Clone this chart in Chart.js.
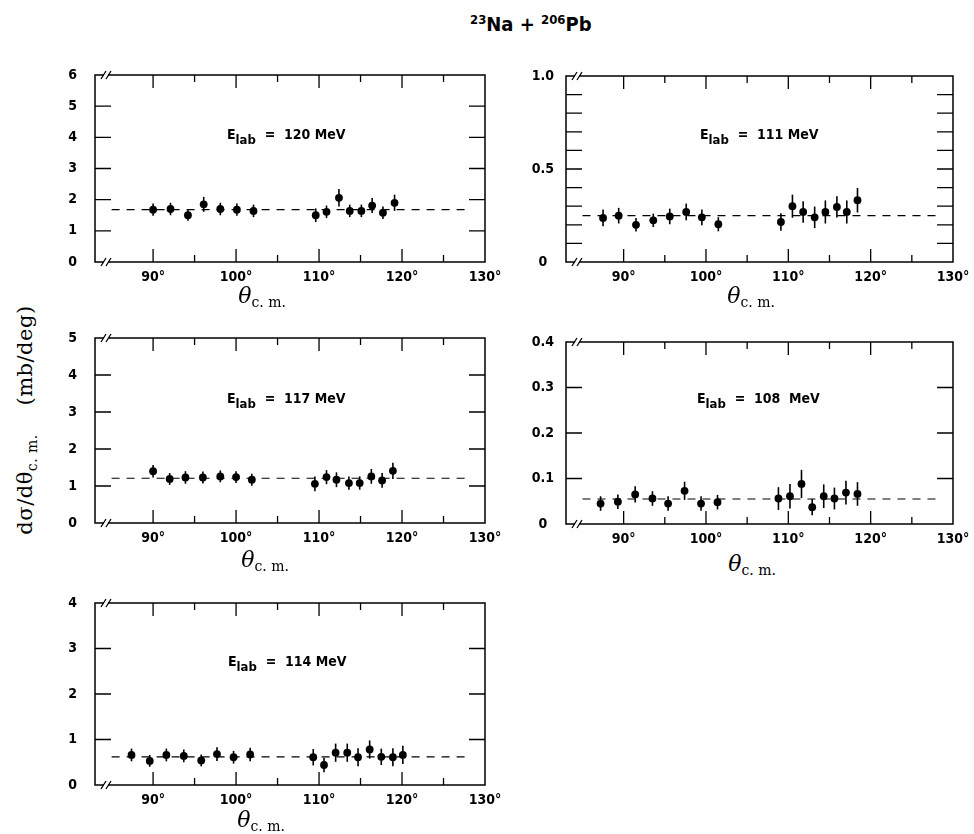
<!DOCTYPE html>
<html>
<head>
<meta charset="utf-8">
<script src="https://cdn.jsdelivr.net/npm/chart.js@4.4.1/dist/chart.umd.min.js"></script>
<style>
  body { margin: 0; background: #fff; width: 974px; height: 834px; position: relative; overflow: hidden; }
  canvas { position: absolute; }
  .txt { position: absolute; white-space: nowrap; color: #000; line-height: 1; }
  .title { left: 470px; top: 12px; font: bold 20px 'DejaVu Sans Condensed', sans-serif; }
  .title sup { font-size: 13px; vertical-align: 7px; }
  .elab { font: bold 14px 'DejaVu Sans Condensed', sans-serif; }
  .elab sub { font-size: 13px; vertical-align: -5px; }
  .xt { font-family: 'DejaVu Serif', serif; transform: translateX(-50%); }
  .xt i { font-size: 22px; }
  .xt sub { font-size: 14px; vertical-align: -4px; }
  .yt { font-family: 'DejaVu Serif', serif; font-size: 21px; letter-spacing: 0.5px; left: 27px; top: 420px; transform: translate(-50%, -50%) rotate(-90deg); }
  .yt sub { font-size: 14px; vertical-align: -5px; }
</style>
</head>
<body>
<div class="txt title"><sup>23</sup>Na + <sup>206</sup>Pb</div>
<div class="txt yt">dσ/dθ<sub>c. m.</sub>&nbsp;&nbsp;&nbsp;&nbsp;(mb/deg)</div>
<canvas id="p120"></canvas>
<canvas id="p111"></canvas>
<canvas id="p117"></canvas>
<canvas id="p108"></canvas>
<canvas id="p114"></canvas>
<script>
// x axis (degrees, c.m.)
const xTicks = [90, 95, 100, 105, 110, 115, 120, 125, 130];
const fitRange = [85, 128];

// E_lab = 120 MeV
const theta120 = [90.0, 92.1, 94.2, 96.1, 98.1, 100.1, 102.1, 109.6, 110.9, 112.4, 113.7, 115.1, 116.4, 117.7, 119.1];
const sigma120 = [1.68, 1.70, 1.50, 1.85, 1.70, 1.68, 1.64, 1.50, 1.61, 2.06, 1.64, 1.64, 1.81, 1.58, 1.90];
const err120 = [0.2, 0.2, 0.18, 0.24, 0.2, 0.2, 0.2, 0.22, 0.2, 0.28, 0.2, 0.2, 0.24, 0.2, 0.26];
const fit120 = 1.68;
const yTicks120 = [0, 1, 2, 3, 4, 5, 6];
const yLabels120 = ['0', '1', '2', '3', '4', '5', '6'];

// E_lab = 111 MeV
const theta111 = [87.5, 89.4, 91.5, 93.6, 95.6, 97.6, 99.5, 101.5, 109.1, 110.5, 111.8, 113.2, 114.5, 115.9, 117.1, 118.4];
const sigma111 = [0.237, 0.249, 0.20, 0.224, 0.245, 0.269, 0.24, 0.203, 0.215, 0.30, 0.269, 0.24, 0.269, 0.296, 0.269, 0.332];
const err111 = [0.045, 0.042, 0.036, 0.036, 0.042, 0.045, 0.042, 0.038, 0.047, 0.062, 0.058, 0.058, 0.062, 0.057, 0.062, 0.066];
const fit111 = 0.249;
const yTicks111 = [0, 0.1, 0.2, 0.3, 0.4, 0.5, 0.6, 0.7, 0.8, 0.9, 1.0];
const yLabels111 = ['0', '', '', '', '', '0.5', '', '', '', '', '1.0'];

// E_lab = 117 MeV
const theta117 = [90.0, 92.0, 93.9, 96.0, 98.1, 100.0, 101.9, 109.5, 110.9, 112.1, 113.6, 114.9, 116.3, 117.6, 118.9];
const sigma117 = [1.40, 1.19, 1.23, 1.23, 1.26, 1.24, 1.17, 1.06, 1.24, 1.17, 1.08, 1.08, 1.26, 1.15, 1.41];
const err117 = [0.17, 0.16, 0.17, 0.16, 0.16, 0.16, 0.16, 0.2, 0.19, 0.2, 0.18, 0.18, 0.2, 0.2, 0.22];
const fit117 = 1.21;
const yTicks117 = [0, 1, 2, 3, 4, 5];
const yLabels117 = ['0', '1', '2', '3', '4', '5'];

// E_lab = 108 MeV
const theta108 = [87.2, 89.3, 91.4, 93.5, 95.4, 97.4, 99.4, 101.4, 108.8, 110.2, 111.6, 112.9, 114.3, 115.6, 117.0, 118.4];
const sigma108 = [0.045, 0.049, 0.065, 0.056, 0.045, 0.073, 0.045, 0.048, 0.056, 0.061, 0.088, 0.037, 0.061, 0.056, 0.069, 0.066];
const err108 = [0.016, 0.016, 0.018, 0.016, 0.016, 0.02, 0.016, 0.016, 0.025, 0.027, 0.031, 0.018, 0.026, 0.024, 0.026, 0.026];
const fit108 = 0.055;
const yTicks108 = [0, 0.1, 0.2, 0.3, 0.4];
const yLabels108 = ['0', '0.1', '0.2', '0.3', '0.4'];

// E_lab = 114 MeV
const theta114 = [87.4, 89.6, 91.6, 93.7, 95.8, 97.7, 99.7, 101.7, 109.3, 110.6, 112.0, 113.4, 114.7, 116.1, 117.5, 118.9, 120.1];
const sigma114 = [0.66, 0.53, 0.66, 0.64, 0.54, 0.68, 0.61, 0.67, 0.61, 0.44, 0.71, 0.71, 0.61, 0.78, 0.62, 0.61, 0.66];
const err114 = [0.14, 0.13, 0.14, 0.14, 0.13, 0.15, 0.14, 0.15, 0.18, 0.16, 0.2, 0.2, 0.2, 0.2, 0.18, 0.2, 0.2];
const fit114 = 0.62;
const yTicks114 = [0, 1, 2, 3, 4];
const yLabels114 = ['0', '1', '2', '3', '4'];

const panels = [
  { id: 'p120', energy: '120 MeV', theta: theta120, sigma: sigma120, err: err120, fit: fit120, yTicks: yTicks120, yLabels: yLabels120,
    box: { l: 95, t: 75, r: 485, b: 262 }, pad: 18, elab: [227, 126], xt: [262, 285] },
  { id: 'p111', energy: '111 MeV', theta: theta111, sigma: sigma111, err: err111, fit: fit111, yTicks: yTicks111, yLabels: yLabels111,
    box: { l: 566, t: 76, r: 953, b: 262 }, pad: 12, elab: [700, 126], xt: [751, 285] },
  { id: 'p117', energy: '117 MeV', theta: theta117, sigma: sigma117, err: err117, fit: fit117, yTicks: yTicks117, yLabels: yLabels117,
    box: { l: 95, t: 338, r: 485, b: 523 }, pad: 18, elab: [227, 390], xt: [265, 549] },
  { id: 'p108', energy: '108&nbsp;&nbsp;MeV', theta: theta108, sigma: sigma108, err: err108, fit: fit108, yTicks: yTicks108, yLabels: yLabels108,
    box: { l: 566, t: 342, r: 953, b: 524 }, pad: 12, elab: [697, 390], xt: [752, 553] },
  { id: 'p114', energy: '114 MeV', theta: theta114, sigma: sigma114, err: err114, fit: fit114, yTicks: yTicks114, yLabels: yLabels114,
    box: { l: 95, t: 603, r: 485, b: 785 }, pad: 18, elab: [228, 653], xt: [261, 809] },
];

const tickFont = { family: "'DejaVu Sans Condensed', sans-serif", size: 14, weight: 'bold' };

// frame, inward ticks, axis breaks and error bars
const framePlugin = {
  id: 'frame',
  beforeDatasetsDraw(chart) {
    const { ctx, scales: { x, y } } = chart;
    const ds = chart.data.datasets[0];
    ctx.save();
    ctx.strokeStyle = '#000';
    ctx.lineWidth = 1.6;
    ds.data.forEach((pt, i) => {
      const px = x.getPixelForValue(pt.x);
      ctx.beginPath();
      ctx.moveTo(px, y.getPixelForValue(pt.y - ds.errors[i]));
      ctx.lineTo(px, y.getPixelForValue(pt.y + ds.errors[i]));
      ctx.stroke();
    });
    ctx.restore();
  },
  afterDatasetsDraw(chart) {
    const { ctx, chartArea: a, scales: { x, y } } = chart;
    ctx.save();
    ctx.strokeStyle = '#000';
    ctx.lineWidth = 1.5;
    ctx.strokeRect(a.left, a.top, a.right - a.left, a.bottom - a.top);
    ctx.lineWidth = 1.3;
    x.ticks.forEach((t) => {
      const px = x.getPixelForValue(t.value);
      if (px >= a.right - 1) return;
      const len = t.value % 10 === 0 ? 13 : 7;
      ctx.beginPath();
      ctx.moveTo(px, a.bottom); ctx.lineTo(px, a.bottom - len);
      ctx.moveTo(px, a.top); ctx.lineTo(px, a.top + len);
      ctx.stroke();
    });
    y.ticks.forEach((t) => {
      const py = y.getPixelForValue(t.value);
      if (py <= a.top + 1 || py >= a.bottom - 1) return;
      ctx.beginPath();
      ctx.moveTo(a.left, py); ctx.lineTo(a.left + 16, py);
      ctx.moveTo(a.right, py); ctx.lineTo(a.right - 16, py);
      ctx.stroke();
    });
    // axis break marks
    [a.top, a.bottom].forEach((by) => {
      const bx = a.left + 8;
      ctx.fillStyle = '#fff';
      ctx.fillRect(bx + 1, by - 1.5, 4, 3);
      ctx.lineWidth = 1.3;
      ctx.beginPath();
      ctx.moveTo(bx - 2, by + 4); ctx.lineTo(bx + 3, by - 4);
      ctx.moveTo(bx + 3, by + 4); ctx.lineTo(bx + 8, by - 4);
      ctx.stroke();
    });
    ctx.restore();
  },
};

const makePanel = (p) => {
  const { l, t, r, b } = p.box;
  const canvas = document.getElementById(p.id);
  const w = r - l + 55 + 20;
  const h = b - t + 10 + 25;
  canvas.width = w;
  canvas.height = h;
  canvas.style.left = (l - 55) + 'px';
  canvas.style.top = (t - 10) + 'px';

  new Chart(canvas, {
    type: 'scatter',
    data: {
      datasets: [
        {
          data: p.theta.map((th, i) => ({ x: th, y: p.sigma[i] })),
          errors: p.err,
          pointRadius: 3.9,
          pointBorderWidth: 0,
          backgroundColor: '#000',
          borderColor: '#000',
        },
        {
          data: fitRange.map((th) => ({ x: th, y: p.fit })),
          showLine: true,
          borderColor: '#000',
          borderWidth: 1.2,
          borderDash: [8, 7],
          pointRadius: 0,
        },
      ],
    },
    options: {
      responsive: false,
      animation: false,
      events: [],
      layout: { padding: { top: 10, right: 20, left: 0, bottom: 0 } },
      plugins: { legend: { display: false }, tooltip: { enabled: false } },
      scales: {
        x: {
          type: 'linear',
          min: 83,
          max: 130,
          afterBuildTicks: (s) => { s.ticks = xTicks.map((v) => ({ value: v })); },
          afterFit: (s) => { s.height = 25; s.paddingLeft = 0; s.paddingRight = 0; },
          ticks: {
            callback: (v) => (v % 10 === 0 ? v + '°' : ''),
            font: tickFont, color: '#000', padding: 7, autoSkip: false, maxRotation: 0,
          },
          grid: { display: false, drawTicks: false },
          border: { display: false },
        },
        y: {
          type: 'linear',
          min: 0,
          max: p.yTicks[p.yTicks.length - 1],
          afterBuildTicks: (s) => { s.ticks = p.yTicks.map((v) => ({ value: v })); },
          afterFit: (s) => { s.width = 55; s.paddingTop = 0; s.paddingBottom = 0; },
          ticks: {
            callback: (v, i) => p.yLabels[i],
            font: tickFont, color: '#000', padding: p.pad, crossAlign: 'center', autoSkip: false,
          },
          grid: { display: false, drawTicks: false },
          border: { display: false },
        },
      },
    },
    plugins: [framePlugin],
  });

  const e = document.createElement('div');
  e.className = 'txt elab';
  e.style.left = p.elab[0] + 'px';
  e.style.top = p.elab[1] + 'px';
  e.innerHTML = 'E<sub>lab</sub>&nbsp;&nbsp;=&nbsp;&nbsp;' + p.energy;
  document.body.appendChild(e);

  const xt = document.createElement('div');
  xt.className = 'txt xt';
  xt.style.left = p.xt[0] + 'px';
  xt.style.top = p.xt[1] + 'px';
  xt.innerHTML = '<i>θ</i><sub>c. m.</sub>';
  document.body.appendChild(xt);
};

panels.forEach(makePanel);
</script>
</body>
</html>
